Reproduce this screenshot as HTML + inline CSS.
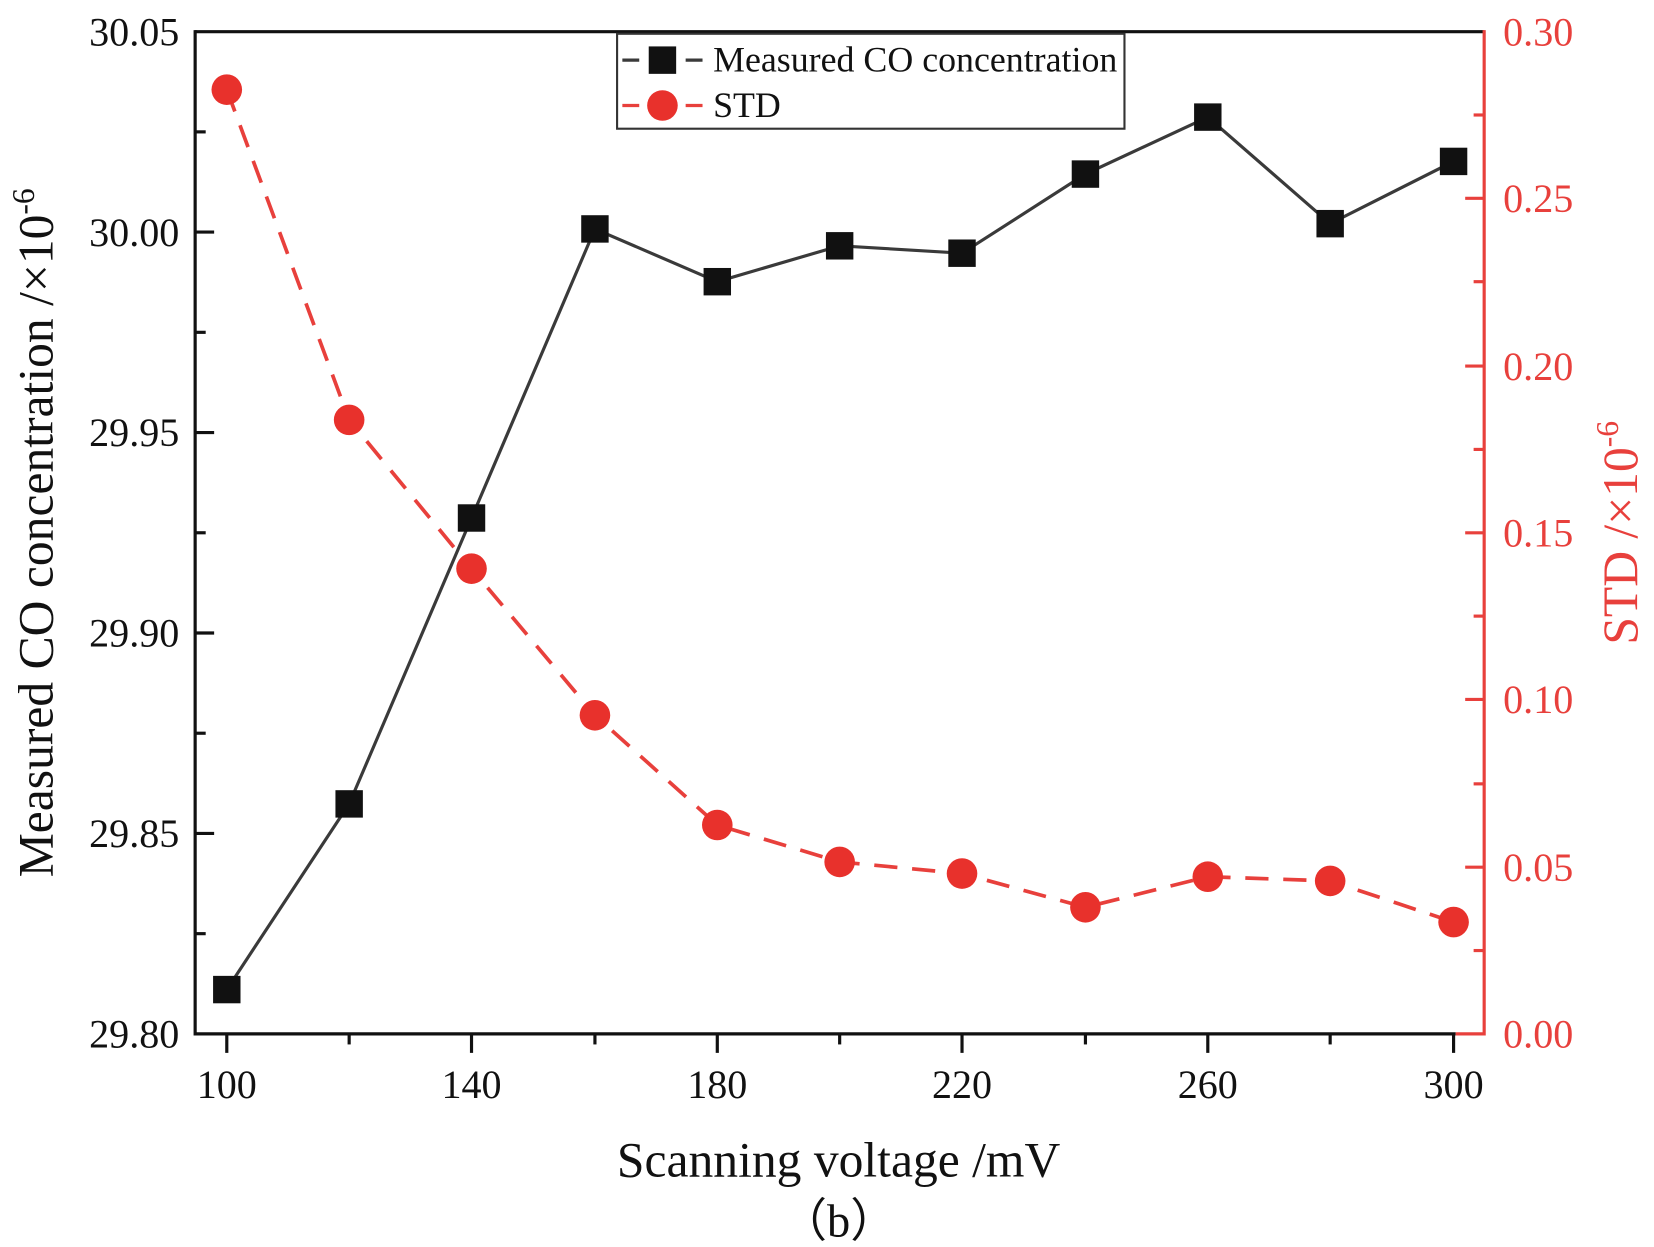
<!DOCTYPE html>
<html><head><meta charset="utf-8"><style>html,body{margin:0;padding:0;background:#fff}svg{display:block}</style></head>
<body>
<svg width="1654" height="1247" viewBox="0 0 1568 1182" preserveAspectRatio="none" xmlns="http://www.w3.org/2000/svg" font-family="Liberation Serif, serif">
<rect width="1568" height="1182" fill="#fff"/>
<line x1="185" y1="30" x2="1407" y2="30" stroke="#111" stroke-width="3"/>
<line x1="185" y1="980" x2="1380" y2="980" stroke="#111" stroke-width="3"/>
<line x1="1380" y1="980" x2="1407" y2="980" stroke="#e8403c" stroke-width="3"/>
<line x1="185" y1="28.5" x2="185" y2="981.5" stroke="#111" stroke-width="3"/>
<line x1="1407" y1="28.5" x2="1407" y2="981.5" stroke="#e8403c" stroke-width="3"/>
<g stroke="#111" stroke-width="3">
<line x1="185" y1="220" x2="203" y2="220"/><line x1="185" y1="410" x2="203" y2="410"/><line x1="185" y1="600" x2="203" y2="600"/><line x1="185" y1="790" x2="203" y2="790"/>
<line x1="185" y1="125" x2="195" y2="125"/><line x1="185" y1="315" x2="195" y2="315"/><line x1="185" y1="505" x2="195" y2="505"/><line x1="185" y1="695" x2="195" y2="695"/><line x1="185" y1="885" x2="195" y2="885"/>
<line x1="215" y1="980" x2="215" y2="998"/><line x1="447" y1="980" x2="447" y2="998"/><line x1="680" y1="980" x2="680" y2="998"/><line x1="912" y1="980" x2="912" y2="998"/><line x1="1145" y1="980" x2="1145" y2="998"/><line x1="1378" y1="980" x2="1378" y2="998"/>
<line x1="331" y1="980" x2="331" y2="990"/><line x1="564" y1="980" x2="564" y2="990"/><line x1="796" y1="980" x2="796" y2="990"/><line x1="1029" y1="980" x2="1029" y2="990"/><line x1="1261" y1="980" x2="1261" y2="990"/>
</g>
<g stroke="#e8403c" stroke-width="3">
<line x1="1407" y1="188" x2="1389" y2="188"/><line x1="1407" y1="347" x2="1389" y2="347"/><line x1="1407" y1="505" x2="1389" y2="505"/><line x1="1407" y1="663" x2="1389" y2="663"/><line x1="1407" y1="822" x2="1389" y2="822"/>
<line x1="1407" y1="109" x2="1397" y2="109"/><line x1="1407" y1="267" x2="1397" y2="267"/><line x1="1407" y1="426" x2="1397" y2="426"/><line x1="1407" y1="584" x2="1397" y2="584"/><line x1="1407" y1="743" x2="1397" y2="743"/><line x1="1407" y1="901" x2="1397" y2="901"/>
</g>
<g font-size="38" fill="#111" text-anchor="end">
<text x="170" y="43">30.05</text><text x="170" y="233">30.00</text><text x="170" y="423">29.95</text><text x="170" y="613">29.90</text><text x="170" y="803">29.85</text><text x="170" y="993">29.80</text>
</g>
<g font-size="38" fill="#e8403c">
<text x="1425" y="43">0.30</text><text x="1425" y="201">0.25</text><text x="1425" y="360">0.20</text><text x="1425" y="518">0.15</text><text x="1425" y="676">0.10</text><text x="1425" y="835">0.05</text><text x="1425" y="993">0.00</text>
</g>
<g font-size="38" fill="#111" text-anchor="middle">
<text x="215" y="1041">100</text><text x="447" y="1041">140</text><text x="680" y="1041">180</text><text x="912" y="1041">220</text><text x="1145" y="1041">260</text><text x="1378" y="1041">300</text>
</g>
<text x="795" y="1115" font-size="47" text-anchor="middle" fill="#111">Scanning voltage /mV</text>
<text x="795" y="1172" font-size="44" text-anchor="middle" fill="#111">（b）</text>
<text transform="translate(50,505) rotate(-90)" font-size="47" text-anchor="middle" fill="#111">Measured CO concentration /×10<tspan dy="-18" font-size="30">-6</tspan></text>
<text transform="translate(1552,505) rotate(-90)" font-size="47" text-anchor="middle" fill="#e8403c">STD /×10<tspan dy="-18" font-size="30">-6</tspan></text>
<polyline fill="none" stroke="#3a3a3a" stroke-width="3" points="215,938 331,762 447,491 564,217 680,267 796,233 912,240 1029,165 1145,111 1261,212 1378,153"/>
<polyline fill="none" stroke="#e8403c" stroke-width="3.5" stroke-dasharray="22,14" points="215,85 331,398 447,539 564,678 680,782 796,817 912,828 1029,860 1145,831 1261,835 1378,874"/>
<g fill="#111">
<rect x="202" y="925" width="26" height="26"/><rect x="318" y="749" width="26" height="26"/><rect x="434" y="478" width="26" height="26"/><rect x="551" y="204" width="26" height="26"/><rect x="667" y="254" width="26" height="26"/><rect x="783" y="220" width="26" height="26"/><rect x="899" y="227" width="26" height="26"/><rect x="1016" y="152" width="26" height="26"/><rect x="1132" y="98" width="26" height="26"/><rect x="1248" y="199" width="26" height="26"/><rect x="1365" y="140" width="26" height="26"/>
</g>
<g fill="#e8312c">
<circle cx="215" cy="85" r="14.5"/><circle cx="331" cy="398" r="14.5"/><circle cx="447" cy="539" r="14.5"/><circle cx="564" cy="678" r="14.5"/><circle cx="680" cy="782" r="14.5"/><circle cx="796" cy="817" r="14.5"/><circle cx="912" cy="828" r="14.5"/><circle cx="1029" cy="860" r="14.5"/><circle cx="1145" cy="831" r="14.5"/><circle cx="1261" cy="835" r="14.5"/><circle cx="1378" cy="874" r="14.5"/>
</g>
<rect x="585" y="32" width="481" height="90" fill="#fff" stroke="#333" stroke-width="2"/>
<line x1="590" y1="57" x2="606" y2="57" stroke="#3a3a3a" stroke-width="3"/><line x1="650" y1="57" x2="666" y2="57" stroke="#3a3a3a" stroke-width="3"/>
<rect x="615" y="44" width="26" height="26" fill="#111"/>
<line x1="590" y1="100" x2="606" y2="100" stroke="#e8403c" stroke-width="3"/><line x1="650" y1="100" x2="666" y2="100" stroke="#e8403c" stroke-width="3"/>
<circle cx="628" cy="100" r="14.5" fill="#e8312c"/>
<text x="676" y="68" font-size="34" fill="#111">Measured CO concentration</text>
<text x="676" y="111" font-size="34" fill="#111">STD</text>
</svg>
</body></html>
